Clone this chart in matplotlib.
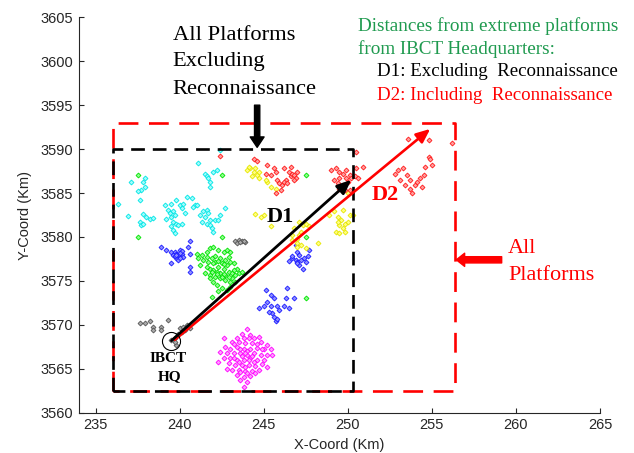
import numpy as np
import matplotlib
matplotlib.use("Agg")
import matplotlib.pyplot as plt
from matplotlib.patches import ArrowStyle

# ---------------- data (km) ----------------
cyan_pts = np.array([
    (237.1, 3586.3), (237.9, 3586.7), (237.8, 3586.3), (237.9, 3585.7), (237.7, 3585.3), (237.5, 3585.2),
    (237.6, 3584.2), (236.3, 3583.7), (236.9, 3582.4), (237.8, 3582.6), (238.0, 3582.3), (238.2, 3582.1),
    (238.4, 3582.2), (237.6, 3581.7), (237.7, 3581.4), (237.8, 3581.5),
    (241.1, 3588.4), (241.5, 3587.2), (241.6, 3586.9), (241.7, 3586.7), (241.8, 3586.3), (241.8, 3585.7),
    (242.0, 3587.4), (242.2, 3587.6), (242.4, 3589.9),
    (239.1, 3583.6), (239.3, 3583.1), (239.4, 3582.7), (239.6, 3582.9), (239.5, 3582.3), (239.7, 3582.5),
    (239.2, 3582.1), (239.6, 3581.7), (239.8, 3581.5), (239.5, 3581.2), (239.6, 3580.8), (239.7, 3580.4),
    (239.9, 3581.4), (240.1, 3581.5), (240.0, 3583.6), (240.2, 3583.8), (240.4, 3584.6), (240.7, 3584.4),
    (240.9, 3583.6), (240.8, 3583.4), (239.8, 3584.2), (240.1, 3583.3), (240.3, 3582.7), (239.5, 3583.8),
    (241.2, 3582.5), (241.4, 3582.9), (241.6, 3583.1), (241.7, 3582.7), (241.5, 3582.3), (241.3, 3581.7),
    (241.6, 3581.5), (241.8, 3581.4), (241.9, 3581.0), (242.1, 3581.9), (242.3, 3581.9), (242.4, 3582.5),
    (242.7, 3583.3), (241.8, 3581.9), (242.0, 3580.6), (241.0, 3583.6),
])

blue_pts = np.array([
    (238.9, 3578.9), (239.2, 3578.5), (239.5, 3578.3), (239.7, 3578.3), (239.8, 3578.1), (239.9, 3577.9),
    (240.0, 3577.9), (239.8, 3577.6), (240.0, 3578.5), (240.1, 3578.1), (239.6, 3577.9), (239.9, 3577.4),
    (239.5, 3577.0), (240.6, 3579.5), (240.5, 3578.9), (240.6, 3578.1), (240.6, 3576.6), (240.6, 3576.0),
    (240.1, 3578.4), (240.2, 3577.7), (239.7, 3577.8), (240.0, 3578.2), (239.8, 3578.0), (240.0, 3577.6),
    (246.9, 3579.1), (247.0, 3578.3), (246.7, 3577.6), (246.9, 3577.4), (247.0, 3577.2), (247.2, 3577.4),
    (247.4, 3577.6), (247.6, 3577.8), (247.7, 3578.5), (247.1, 3576.8), (247.3, 3576.4), (247.0, 3577.0),
    (246.7, 3577.8), (247.5, 3577.2), (246.5, 3577.3), (247.1, 3577.9),
    (245.1, 3574.0), (245.4, 3573.4), (245.6, 3573.0), (245.2, 3572.6), (245.0, 3572.1), (245.4, 3572.2),
    (245.8, 3572.2), (245.9, 3571.7), (246.2, 3572.1), (246.5, 3571.9), (246.4, 3574.2), (246.3, 3573.0),
    (246.8, 3573.0), (245.5, 3571.3), (245.6, 3570.9), (245.7, 3570.4), (245.8, 3570.7), (245.3, 3571.5),
    (244.7, 3571.9),
])

green_pts = np.array([
    (241.0, 3578.1), (241.3, 3577.9), (241.6, 3578.3), (241.8, 3578.7), (242.0, 3578.9), (242.3, 3578.5),
    (242.6, 3578.3), (242.8, 3578.5), (243.0, 3578.3), (241.4, 3577.4), (241.7, 3577.2), (241.9, 3577.6),
    (242.1, 3577.8), (242.4, 3577.6), (242.7, 3577.4), (243.0, 3577.2), (243.2, 3577.0), (241.6, 3576.6),
    (241.8, 3576.4), (242.0, 3576.2), (242.3, 3576.6), (242.6, 3576.4), (242.9, 3576.0), (243.1, 3575.9),
    (243.3, 3575.7), (243.5, 3575.9), (243.7, 3576.0), (241.8, 3575.7), (242.1, 3575.5), (242.4, 3575.3),
    (242.7, 3575.1), (243.0, 3574.9), (243.3, 3574.9), (242.2, 3574.5), (242.5, 3574.2), (242.8, 3574.0),
    (242.0, 3574.9), (242.4, 3575.9), (241.2, 3576.8), (241.5, 3575.9), (241.8, 3575.3), (242.5, 3577.0),
    (242.1, 3577.2), (242.7, 3575.7), (242.3, 3573.8), (243.0, 3574.3), (241.9, 3573.2), (241.1, 3577.6),
    (242.2, 3576.0), (242.8, 3576.8), (242.5, 3575.5), (241.6, 3577.7), (243.1, 3575.3), (243.4, 3576.4),
    (242.0, 3577.0), (242.3, 3577.3), (242.6, 3576.9), (242.9, 3577.7), (242.2, 3575.8), (242.6, 3575.8),
    (241.9, 3576.0), (243.2, 3576.2), (242.9, 3575.5),
    (237.5, 3587.0), (237.5, 3580.0), (247.5, 3587.0), (247.5, 3573.0), (242.5, 3587.1), (242.5, 3580.0),
    (247.5, 3580.0),
])

gray_pts = np.array([
    (243.3, 3579.5), (243.5, 3579.6), (243.7, 3579.5), (243.9, 3579.4), (243.4, 3579.3), (243.6, 3579.4),
    (243.8, 3579.5),
    (237.6, 3570.2), (237.9, 3570.2), (238.2, 3570.4), (239.3, 3570.6), (238.4, 3569.7), (238.4, 3569.4),
    (238.9, 3569.8), (238.9, 3569.4), (240.0, 3569.6), (240.2, 3569.8), (240.4, 3570.0), (240.6, 3569.6),
    (240.1, 3569.2), (239.7, 3568.5), (239.5, 3568.3), (239.8, 3567.7), (239.7, 3568.1), (239.9, 3569.0),
    (240.3, 3569.4),
])

magenta_pts = np.array([
    (244.0, 3569.5), (243.7, 3569.0), (244.2, 3568.8), (243.4, 3568.5), (243.8, 3568.5), (244.4, 3568.5),
    (244.7, 3568.6), (243.1, 3568.1), (243.5, 3568.1), (243.9, 3567.9), (244.3, 3567.9), (244.8, 3568.1),
    (245.2, 3567.7), (242.7, 3567.5), (243.0, 3567.3), (243.4, 3567.5), (243.8, 3567.3), (244.2, 3567.3),
    (244.6, 3567.4), (245.0, 3567.3), (245.4, 3567.3), (242.4, 3566.9), (242.8, 3566.8), (243.2, 3566.8),
    (243.6, 3566.8), (244.0, 3566.6), (244.4, 3566.8), (244.8, 3566.6), (245.2, 3566.6), (245.5, 3566.6),
    (242.6, 3566.2), (243.0, 3566.2), (243.4, 3566.0), (243.8, 3566.0), (244.2, 3566.2), (244.6, 3566.0),
    (245.0, 3566.0), (242.9, 3565.6), (243.3, 3565.4), (243.7, 3565.4), (244.1, 3565.4), (244.5, 3565.3),
    (244.9, 3565.5), (243.1, 3564.9), (243.5, 3564.9), (243.9, 3564.7), (244.3, 3564.8), (244.7, 3564.9),
    (243.4, 3564.3), (243.8, 3564.1), (244.2, 3564.2), (243.6, 3563.7), (244.0, 3563.5), (243.8, 3562.9),
    (242.8, 3565.0), (242.3, 3565.8), (245.2, 3565.2), (242.6, 3568.5), (244.9, 3567.3), (244.1, 3566.0),
    (243.7, 3566.4), (243.6, 3567.3), (244.0, 3567.0), (244.4, 3565.8), (243.2, 3566.2), (243.9, 3565.2),
    (244.1, 3568.5), (243.9, 3566.8), (244.3, 3566.5), (243.5, 3565.8), (244.0, 3564.5), (243.2, 3567.8),
    (244.6, 3567.8), (243.6, 3564.6), (244.5, 3564.5),
])

yellow_pts = np.array([
    (244.0, 3587.6), (244.2, 3587.8), (244.4, 3587.4), (244.6, 3587.0), (244.3, 3586.9), (244.7, 3586.7),
    (245.2, 3586.3), (245.4, 3585.7), (245.7, 3585.5), (244.1, 3588.0), (244.5, 3587.8), (244.7, 3587.4),
    (245.1, 3586.5),
    (244.5, 3582.6), (244.8, 3582.3), (245.0, 3582.5), (245.4, 3581.2),
    (246.7, 3580.2), (247.0, 3579.8), (247.1, 3580.2), (247.2, 3580.6), (247.3, 3581.4), (247.5, 3581.5),
    (247.7, 3581.2), (247.1, 3581.7), (246.8, 3581.0), (247.0, 3579.3), (247.2, 3579.1), (247.5, 3578.7),
    (248.2, 3579.3), (247.0, 3578.9), (246.7, 3579.6),
    (248.9, 3582.5), (249.2, 3582.9), (249.4, 3582.3), (249.6, 3581.9), (249.8, 3581.5), (249.5, 3581.4),
    (249.7, 3581.0), (249.3, 3580.6), (249.5, 3580.4), (249.8, 3580.6), (250.0, 3581.7), (250.1, 3582.5),
    (250.3, 3582.5), (249.7, 3583.1), (249.4, 3581.7), (250.0, 3585.0),
])

red_pts = np.array([
    (244.4, 3588.9), (244.6, 3588.6), (245.2, 3588.2), (245.1, 3587.2), (245.4, 3587.0), (245.7, 3587.4),
    (245.8, 3586.5), (245.9, 3586.1), (246.1, 3585.9), (246.2, 3587.8), (246.3, 3586.5), (246.5, 3587.4),
    (246.6, 3586.9), (246.7, 3587.2), (246.8, 3587.0), (246.9, 3586.7), (246.0, 3585.3), (245.7, 3585.0),
    (246.2, 3586.3), (246.6, 3588.0), (245.6, 3587.8), (246.4, 3586.1), (246.8, 3586.5), (247.0, 3587.4),
    (242.4, 3589.2),
    (249.0, 3587.6), (249.3, 3587.8), (249.5, 3587.4), (249.7, 3587.2), (249.9, 3587.6), (250.1, 3587.0),
    (249.9, 3586.7), (249.5, 3586.7), (249.2, 3586.5), (249.4, 3586.1), (249.7, 3585.9), (250.0, 3586.3),
    (250.2, 3586.7), (250.4, 3586.9), (250.6, 3586.7), (250.9, 3588.0), (250.5, 3587.8), (249.8, 3585.3),
    (249.5, 3585.5), (250.1, 3585.3), (250.5, 3589.7),
    (252.8, 3587.2), (253.0, 3587.6), (253.3, 3587.8), (253.5, 3587.0), (253.7, 3586.5), (253.4, 3585.9),
    (253.7, 3585.5), (254.0, 3585.9), (254.1, 3586.3), (254.3, 3586.7), (254.5, 3587.0), (254.6, 3588.0),
    (254.8, 3589.1), (254.9, 3588.9), (255.0, 3588.2), (254.4, 3585.7), (253.8, 3585.0), (253.1, 3586.5),
    (253.6, 3591.2), (254.8, 3591.0), (256.2, 3590.7),
])

# regions and distances
hq = (239.5, 3568.2)
d1_end = (250.2, 3586.5)
d2_start = (239.7, 3568.3)
d2_end = (254.9, 3592.3)
rect_all = (236.0, 256.4, 3562.5, 3593.0)       # x0, x1, y0, y1
rect_excl = (236.0, 250.3, 3562.5, 3590.0)

x_ticks = [235, 240, 245, 250, 255, 260, 265]
y_ticks = [3560, 3565, 3570, 3575, 3580, 3585, 3590, 3595, 3600, 3605]

# ---------------- figure ----------------
fig = plt.figure(figsize=(6.34, 4.53), dpi=100)
ax = fig.add_axes([79 / 634, 40.3 / 453, 521 / 634, 395.4 / 453])
ax.set_xlim(234, 265)
ax.set_ylim(3560, 3605)

serif = ["Liberation Serif", "DejaVu Serif"]
sans = ["Liberation Sans", "DejaVu Sans"]

def draw_pts(pts, color, face):
    ax.plot(pts[:, 0], pts[:, 1], linestyle="none", marker="D", markersize=2.5,
            markerfacecolor=face, markeredgecolor=color, markeredgewidth=0.6, zorder=2)

draw_pts(cyan_pts, "#00e6e6", "#9ffcfc")
draw_pts(blue_pts, "#1a1aff", "#8c8cff")
draw_pts(green_pts, "#00e000", "#8cff8c")
draw_pts(gray_pts, "#555555", "#aaaaaa")
draw_pts(magenta_pts, "#ff00ff", "#ff9cff")
draw_pts(yellow_pts, "#e6e600", "#ffff80")
draw_pts(red_pts, "#ff1a1a", "#ff9c9c")

def rect(r, color, lw, dashes, z):
    x0, x1, y0, y1 = r
    ax.plot([x0, x0, x1, x1, x0], [y0, y1, y1, y0, y0], color=color, lw=lw,
            dashes=dashes, solid_joinstyle="miter", zorder=z)

rect(rect_all, "#ff0000", 1.9, (7.5, 4.0), 3)
rect(rect_excl, "#000000", 1.9, (5.2, 3.0), 4)

# distance arrows
ax.annotate("", xy=d2_end, xytext=d2_start,
            arrowprops=dict(arrowstyle=ArrowStyle("-|>", head_length=0.7, head_width=0.3),
                            color="#ff0000", lw=1.9, mutation_scale=12, shrinkA=0, shrinkB=0),
            zorder=5)
ax.annotate("", xy=d1_end, xytext=hq,
            arrowprops=dict(arrowstyle=ArrowStyle("-|>", head_length=0.7, head_width=0.3),
                            color="#000000", lw=2.0, mutation_scale=12, shrinkA=0, shrinkB=0),
            zorder=6)

# HQ circle
ax.plot([hq[0]], [hq[1]], marker="o", markersize=13, markerfacecolor="none",
        markeredgecolor="black", markeredgewidth=0.8, zorder=6)

# thick indicator arrows
ax.annotate("", xy=(244.6, 3590.2), xytext=(244.6, 3595.0),
            arrowprops=dict(arrowstyle=ArrowStyle("simple", head_length=0.75, head_width=1.0, tail_width=0.38),
                            color="black", mutation_scale=10, shrinkA=0, shrinkB=0), zorder=6)
ax.annotate("", xy=(256.45, 3577.4), xytext=(259.15, 3577.4),
            arrowprops=dict(arrowstyle=ArrowStyle("simple", head_length=0.6, head_width=0.95, tail_width=0.45),
                            color="#ff0000", mutation_scale=10, shrinkA=0, shrinkB=0), zorder=6)

# texts
for txt, yv in [("All Platforms", 3602.97), ("Excluding", 3599.93), ("Reconnaissance", 3596.83)]:
    ax.text(239.57, yv, txt, family=serif, fontsize=16.2, color="black", ha="left", va="center")
for txt, yv in [("All", 3578.74), ("Platforms", 3575.67)]:
    ax.text(259.52, yv, txt, family=serif, fontsize=16, color="#ff0000", ha="left", va="center")

ax.text(250.6, 3603.99, "Distances from extreme platforms", family=serif, fontsize=13.8,
        color="#1f9a4f", ha="left", va="center")
ax.text(250.6, 3601.38, "from IBCT Headquarters:", family=serif, fontsize=13.8,
        color="#1f9a4f", ha="left", va="center")
ax.text(251.71, 3598.79, "D1: Excluding  Reconnaissance", family=serif, fontsize=13.6,
        color="black", ha="left", va="center")
ax.text(251.71, 3596.14, "D2: Including  Reconnaissance", family=serif, fontsize=13.6,
        color="#ff0000", ha="left", va="center")

ax.text(245.96, 3582.3, "D1", family=serif, fontsize=16, fontweight="bold", color="black",
        ha="center", va="center", zorder=7)
ax.text(252.2, 3584.8, "D2", family=serif, fontsize=16, fontweight="bold", color="#ff0000",
        ha="center", va="center", zorder=7)
ax.text(239.3, 3566.2, "IBCT", family=serif, fontsize=11, fontweight="bold", color="black",
        ha="center", va="center", zorder=7)
ax.text(239.4, 3564.1, "HQ", family=serif, fontsize=11, fontweight="bold", color="black",
        ha="center", va="center", zorder=7)

# axes styling
for s in ["top", "right"]:
    ax.spines[s].set_visible(False)
for s in ["left", "bottom"]:
    ax.spines[s].set_color("#262626")
    ax.spines[s].set_linewidth(0.8)
ax.set_xticks(x_ticks)
ax.set_yticks(y_ticks)
ax.set_xticklabels([str(v) for v in x_ticks])
ax.set_yticklabels([str(v) for v in y_ticks])
ax.tick_params(direction="in", length=3.8, width=0.8, color="#262626", labelcolor="#262626",
               labelsize=10.5, pad=4)
for lab in ax.get_xticklabels() + ax.get_yticklabels():
    lab.set_family(sans)
ax.set_xlabel("X-Coord (Km)", family=sans, fontsize=10.5, color="#262626", labelpad=4)
ax.set_ylabel("Y-Coord (Km)", family=sans, fontsize=10.5, color="#262626", labelpad=6)

fig.savefig("out.png", dpi=100)
